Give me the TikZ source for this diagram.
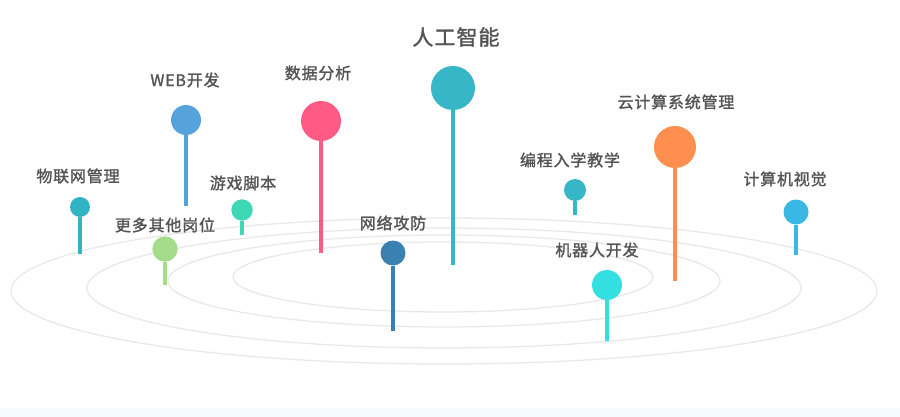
\documentclass[tikz,border=0pt]{standalone}
\usepackage{fontspec}
\setmainfont{Noto Sans CJK SC}[LetterSpace=5, FakeBold=1.5]
\usetikzlibrary{positioning}

\definecolor{labelgray}{HTML}{545454}
\definecolor{orbitgray}{HTML}{E8E8E8}
\definecolor{bandgray}{HTML}{F5FAFA}
\definecolor{iotteal}{HTML}{33B4C5}
\definecolor{moregreen}{HTML}{A5DC8C}
\definecolor{gamemint}{HTML}{3FD8B5}
\definecolor{webblue}{HTML}{56A2DA}
\definecolor{datapink}{HTML}{FF5B85}
\definecolor{aiteal}{HTML}{36B6C6}
\definecolor{secblue}{HTML}{3A80B1}
\definecolor{codeteal}{HTML}{36B6C6}
\definecolor{robotcyan}{HTML}{34DFE2}
\definecolor{cloudorange}{HTML}{FF8F4E}
\definecolor{visionblue}{HTML}{3BB7E5}

\begin{document}
\begin{tikzpicture}[
  x=1pt, y=-1pt,
  every node/.style={font=\fontsize{16}{19}\selectfont, text=labelgray},
  pinhead/.style={circle, fill=#1, inner sep=0pt},
  stem/.style={#1, line width=3.5pt},
  orbit/.style={orbitgray, line width=1.3pt},
]
\useasboundingbox (0,0) rectangle (900,417);

% Bottom band
\fill[bandgray] (0,408) rectangle (900,417);

% Orbits
\draw[orbit] (444,291) ellipse [x radius=433, y radius=73];
\draw[orbit] (444,288) ellipse [x radius=357, y radius=60];
\draw[orbit] (444,281) ellipse [x radius=276, y radius=46];
\draw[orbit] (443,277) ellipse [x radius=210, y radius=35];

% Pins: name/x/y/radius/stem end/colour/label x/label y/text
\foreach \nm/\px/\py/\rr/\yb/\cl/\lx/\ly/\txt in {
  iot/80/207/10/254/iotteal/78/176/物联网管理,
  more/165/249/12.7/285/moregreen/165/225/更多其他岗位,
  game/242/210/10.7/235/gamemint/243/183/游戏脚本,
  web/186/120/15/206/webblue/185/80/WEB开发,
  data/321/121/20/253/datapink/318/73/数据分析,
  sec/393/253/12.5/331/secblue/393/223/网络攻防,
  code/575/190/11/215/codeteal/570/160/编程入学教学,
  robot/607/285/15/341/robotcyan/597/250/机器人开发,
  cloud/675/147/21/281/cloudorange/676/102/云计算系统管理,
  vision/796/212/12.5/255/visionblue/785/179/计算机视觉} {
  \node[pinhead=\cl, minimum size=2*\rr] (\nm) at (\px,\py) {};
  \coordinate (\nm-end) at (\px,\yb);
  \draw[stem=\cl] (\nm.south) -- (\nm-end);
  \node (\nm-label) at (\lx,\ly) {\txt};
}

% Main pin
\node[pinhead=aiteal, minimum size=44] (ai) at (453,88) {};
\coordinate (ai-end) at (453,265);
\draw[stem=aiteal] (ai.south) -- (ai-end);
\node[font=\fontsize{21}{25}\selectfont] (ai-label) at (456,37) {人工智能};
\end{tikzpicture}
\end{document}
